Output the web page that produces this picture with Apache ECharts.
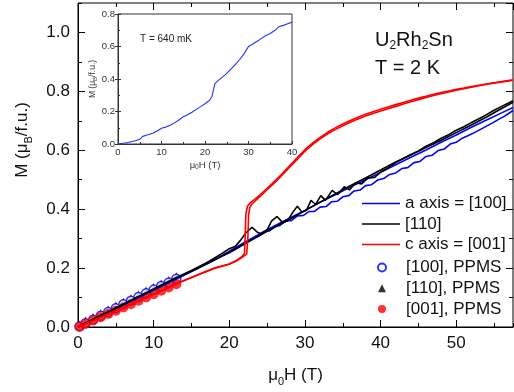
<!DOCTYPE html>
<html><head><meta charset="utf-8">
<script src="https://cdn.jsdelivr.net/npm/echarts@6/dist/echarts.min.js"></script>
<style>html,body{margin:0;padding:0;background:#fff}#c{width:514px;height:392px}</style>
</head><body><div id="c"></div>
<script>
// ---------- data ----------
const xTickMain = {min: 0, max: 57.5, major: 10, minor: 5};
const yTickMain = {min: 0, max: 1.1, major: 0.2, minor: 0.1};
const xTickInset = {min: 0, max: 40, major: 10};
const yTickInset = {min: 0, max: 0.8, major: 0.2};

const seriesNames = ['a axis = [100]', '[110]', 'c axis = [001]', '[100], PPMS', '[110], PPMS', '[001], PPMS'];

// a axis = [100], two field sweeps
const blueSweep1 = [[0,0],[13,0.163],[15,0.188],[17,0.214],[19,0.24],[20,0.252],[21,0.266],[22,0.282],[23,0.3],[24,0.31],[24.6,0.325],[25.3,0.326],[26,0.341],[26.7,0.345],[27.5,0.362],[28.2,0.361],[29,0.377],[29.8,0.379],[30.5,0.392],[31.2,0.392],[32,0.407],[32.8,0.409],[33.5,0.425],[34.3,0.427],[35,0.442],[35.8,0.446],[36.5,0.462],[37.3,0.465],[38,0.48],[38.8,0.483],[39.6,0.499],[40.4,0.504],[41.2,0.518],[42,0.523],[42.8,0.538],[43.6,0.541],[44.4,0.558],[45.2,0.562],[46,0.579],[46.8,0.583],[47.6,0.599],[48.4,0.604],[49.2,0.621],[50,0.627],[50.8,0.641],[51.6,0.65],[52.4,0.66],[53.2,0.671],[54,0.682],[54.8,0.693],[55.6,0.705],[56.4,0.716],[57.5,0.735]];
const blueSweep2 = [[0,0],[13,0.164],[16,0.202],[19,0.242],[22,0.287],[25,0.33],[28,0.37],[30,0.396],[32,0.423],[34,0.449],[36,0.475],[38,0.5],[40,0.525],[42,0.551],[44,0.576],[46,0.601],[48,0.627],[50,0.652],[52,0.678],[54,0.703],[56,0.727],[57.5,0.745]];
// [110], two field sweeps
const blackSweep1 = [[0,0],[13,0.168],[15,0.192],[17,0.218],[18,0.234],[19,0.249],[20,0.266],[20.8,0.274],[21.5,0.295],[22.2,0.32],[23,0.338],[23.7,0.322],[24.3,0.316],[25,0.33],[25.6,0.36],[26.3,0.375],[27,0.356],[27.7,0.36],[28.4,0.39],[29,0.41],[29.6,0.39],[30.2,0.396],[30.8,0.43],[31.4,0.416],[32.1,0.446],[32.7,0.43],[33.6,0.464],[34.3,0.449],[35.2,0.476],[35.9,0.466],[36.7,0.49],[37.5,0.486],[38.3,0.506],[39.2,0.508],[40,0.526],[41,0.54],[42,0.558],[43,0.572],[44,0.586],[45,0.598],[46,0.614],[47,0.626],[48,0.641],[49,0.653],[50,0.668],[51,0.68],[52,0.694],[53,0.707],[54,0.721],[55,0.736],[56,0.749],[57.5,0.768]];
const blackSweep2 = [[0,0],[13,0.166],[16,0.202],[18.6,0.235],[22,0.282],[25,0.325],[28,0.366],[30,0.395],[32,0.424],[34,0.452],[36,0.48],[38,0.506],[40,0.533],[42,0.56],[44,0.584],[46,0.609],[48,0.634],[50,0.66],[52,0.686],[54,0.713],[56,0.742],[57.5,0.763]];
// c axis = [001], two field sweeps
const redSweep1 = [[0,0],[2,0.022],[4,0.044],[6,0.066],[8,0.089],[10,0.111],[12,0.134],[13,0.146],[14,0.157],[16,0.178],[18,0.199],[20,0.213],[21,0.225],[21.8,0.238],[22.3,0.248],[22.45,0.3],[22.55,0.38],[22.7,0.405],[22.9,0.415],[24,0.442],[25,0.466],[26,0.49],[27,0.516],[28,0.543],[29,0.57],[30,0.597],[31,0.619],[32,0.639],[33,0.656],[34,0.67],[35,0.683],[36,0.695],[37,0.706],[38,0.716],[39,0.725],[40,0.733],[41,0.741],[42,0.749],[43,0.757],[44,0.765],[45,0.772],[46,0.779],[47,0.786],[48,0.792],[49,0.798],[50,0.804],[51,0.809],[52,0.814],[53,0.819],[54,0.824],[55,0.828],[56,0.832],[57.5,0.838]];
const redSweep2 = [[0,0],[2,0.022],[4,0.045],[6,0.067],[8,0.09],[10,0.112],[12,0.135],[13,0.147],[14,0.158],[16,0.179],[18,0.2],[20,0.214],[21,0.227],[21.7,0.24],[22,0.25],[22.1,0.31],[22.2,0.385],[22.4,0.41],[22.7,0.42],[24,0.447],[25,0.471],[26,0.495],[27,0.521],[28,0.548],[29,0.575],[30,0.602],[31,0.624],[32,0.644],[33,0.661],[34,0.676],[35,0.689],[36,0.701],[37,0.712],[38,0.722],[39,0.731],[40,0.739],[41,0.747],[42,0.755],[43,0.762],[44,0.77],[45,0.777],[46,0.783],[47,0.79],[48,0.796],[49,0.801],[50,0.807],[51,0.811],[52,0.816],[53,0.821],[54,0.825],[55,0.829],[56,0.833],[57.5,0.839]];
// PPMS points
const ppms100 = [[0.2,0.002],[1,0.013],[2,0.025],[3,0.038],[4,0.051],[5,0.064],[6,0.077],[7,0.089],[8,0.102],[9,0.115],[10,0.127],[11,0.139],[12,0.151],[13,0.164]];
const ppms110 = [[0.2,0.006],[1,0.02],[2,0.032],[3,0.045],[4,0.058],[5,0.071],[6,0.084],[7,0.096],[8,0.109],[9,0.122],[10,0.134],[11,0.146],[12,0.158],[13,0.171]];
const ppms001 = [[0.2,0.001],[1,0.011],[2,0.022],[3,0.033],[4,0.044],[5,0.055],[6,0.066],[7,0.077],[8,0.089],[9,0.1],[10,0.111],[11,0.123],[12,0.134],[13,0.145]];
// inset, T = 640 mK
const inset640 = [[0,0],[2,0.008],[4,0.02],[5,0.029],[5.7,0.047],[7,0.058],[8,0.066],[9,0.08],[10,0.097],[11,0.104],[12,0.115],[13,0.13],[14,0.148],[15,0.168],[16,0.18],[17,0.195],[18,0.213],[19,0.23],[20,0.248],[21,0.268],[21.6,0.292],[22,0.34],[22.3,0.372],[23,0.39],[24,0.412],[25,0.435],[26,0.462],[27,0.49],[28,0.52],[29,0.556],[30,0.6],[31,0.615],[32,0.632],[33,0.65],[34,0.668],[35,0.68],[36,0.698],[37,0.722],[38,0.73],[39,0.74],[40,0.75]];

// ---------- chart ----------
const FF = 'Liberation Sans, Arial, Helvetica, sans-serif';
const BLUE = '#0000ff', BLACK = '#000000', RED = '#ff0000';
const chart = echarts.init(document.getElementById('c'), null, {renderer: 'canvas'});

function richFor(size, subSize, pad) {
  return {
    n: {fontSize: size, lineHeight: size + 3, verticalAlign: 'top', fontFamily: FF, color: '#111'},
    s: {fontSize: subSize, lineHeight: subSize, padding: [pad, 0, 0, 0], verticalAlign: 'bottom', fontFamily: FF, color: '#111'}
  };
}

function mainX(pos, interval, len, withLabels) {
  return {
    type: 'value', gridIndex: 0, position: pos, min: xTickMain.min, max: xTickMain.max, interval: interval,
    axisLine: {show: withLabels, onZero: false, lineStyle: {color: '#000', width: 1}},
    axisTick: {show: true, inside: true, length: len, lineStyle: {color: '#000', width: 1}},
    axisLabel: {show: withLabels, fontSize: 17, color: '#111', fontFamily: FF, margin: 8, showMaxLabel: false},
    splitLine: {show: false}
  };
}
function mainY(pos, interval, len, withLabels) {
  return {
    type: 'value', gridIndex: 0, position: pos, min: yTickMain.min, max: yTickMain.max, interval: interval,
    axisLine: {show: withLabels, onZero: false, lineStyle: {color: '#000', width: 1}},
    axisTick: {show: true, inside: true, length: len, lineStyle: {color: '#000', width: 1}},
    axisLabel: {show: withLabels, fontSize: 17, color: '#111', fontFamily: FF, margin: 8, showMaxLabel: false,
      formatter: v => v.toFixed(1)},
    splitLine: {show: false}
  };
}

const xAxes = [
  Object.assign(mainX('bottom', xTickMain.major, 7, true), {
    name: '{n|μ}{s|0}{n|H (T)}', nameLocation: 'middle', nameGap: 40,
    nameTextStyle: {rich: richFor(17, 11, 11)}
  }),
  mainX('bottom', xTickMain.minor, 4, false),
  mainX('top', xTickMain.major, 7, false),
  mainX('top', xTickMain.minor, 4, false),
  {
    type: 'value', gridIndex: 1, position: 'bottom', min: xTickInset.min, max: xTickInset.max, interval: xTickInset.major,
    axisLine: {show: true, onZero: false, lineStyle: {color: '#333', width: 1}},
    axisTick: {inside: true, length: 3, lineStyle: {color: '#333'}},
    minorTick: {show: true, splitNumber: 2, length: 2, lineStyle: {color: '#333'}},
    axisLabel: {fontSize: 9.5, color: '#333', fontFamily: FF, margin: 3},
    splitLine: {show: false},
    name: '{n|μ}{s|0}{n|H (T)}', nameLocation: 'middle', nameGap: 14,
    nameTextStyle: {rich: {
      n: {fontSize: 9.5, lineHeight: 11, verticalAlign: 'top', fontFamily: FF, color: '#333'},
      s: {fontSize: 6.5, lineHeight: 6.5, padding: [6, 0, 0, 0], verticalAlign: 'bottom', fontFamily: FF, color: '#333'}
    }}
  }
];
const yAxes = [
  Object.assign(mainY('left', yTickMain.major, 7, true), {
    name: '{n|M (μ}{s|B}{n|/f.u.)}', nameLocation: 'middle', nameGap: 44,
    nameTextStyle: {rich: richFor(17, 11, 11), padding: [0, 0, 0, 50]}
  }),
  mainY('left', yTickMain.minor, 4, false),
  mainY('right', yTickMain.major, 7, false),
  mainY('right', yTickMain.minor, 4, false),
  {
    type: 'value', gridIndex: 1, position: 'left', min: yTickInset.min, max: yTickInset.max, interval: yTickInset.major,
    axisLine: {show: true, onZero: false, lineStyle: {color: '#333', width: 1}},
    axisTick: {inside: true, length: 3, lineStyle: {color: '#333'}},
    minorTick: {show: true, splitNumber: 2, length: 2, lineStyle: {color: '#333'}},
    axisLabel: {fontSize: 9.5, color: '#333', fontFamily: FF, margin: 3, formatter: v => v.toFixed(1)},
    splitLine: {show: false},
    name: '{n|M (μ}{s|B}{n|/f.u.)}', nameLocation: 'middle', nameGap: 17,
    nameTextStyle: {rich: {
      n: {fontSize: 8.5, lineHeight: 10, verticalAlign: 'top', fontFamily: FF, color: '#333'},
      s: {fontSize: 6, lineHeight: 6, padding: [5, 0, 0, 0], verticalAlign: 'bottom', fontFamily: FF, color: '#333'}
    }}
  },
  {
    type: 'value', gridIndex: 1, position: 'right', min: yTickInset.min, max: yTickInset.max, interval: yTickInset.major,
    axisLine: {show: false}, axisTick: {inside: true, length: 3, lineStyle: {color: '#333'}},
    axisLabel: {show: false}, splitLine: {show: false}
  }
];

function lineSeries(name, data, color) {
  return {type: 'line', name: name, data: data, xAxisIndex: 0, yAxisIndex: 0, symbol: 'none',
    lineStyle: {color: color, width: 1.6}, itemStyle: {color: color}, silent: true};
}

const option = {
  animation: false,
  backgroundColor: '#fff',
  grid: [
    {left: 78, top: 3, right: 1, bottom: 64, show: true, borderColor: '#000', borderWidth: 1, backgroundColor: 'transparent'},
    {left: 118, top: 14, width: 174, height: 130, show: true, borderColor: '#333', borderWidth: 1, backgroundColor: '#fff'}
  ],
  xAxis: xAxes,
  yAxis: yAxes,
  legend: [
    {data: seriesNames.slice(0, 3), orient: 'vertical', left: 357, top: 190, itemWidth: 38, itemHeight: 1.5, itemGap: 3.5,
      icon: 'rect', selectedMode: false, textStyle: {fontSize: 17, color: '#111', fontFamily: FF}},
    {data: seriesNames.slice(3), orient: 'vertical', left: 372, top: 254, itemWidth: 8, itemHeight: 8, itemGap: 3.8,
      selectedMode: false, textStyle: {fontSize: 17, color: '#111', fontFamily: FF, padding: [0, 0, 0, 15]}}
  ],
  graphic: [
    {type: 'text', left: 375, top: 27, style: {text: '{n|U}{s|2}{n|Rh}{s|2}{n|Sn}', rich: {
      n: {fontSize: 20, lineHeight: 22, verticalAlign: 'top', fontFamily: FF, fill: '#111'},
      s: {fontSize: 12, lineHeight: 12, padding: [13, 0, 0, 0], verticalAlign: 'bottom', fontFamily: FF, fill: '#111'}
    }}},
    {type: 'text', left: 375, top: 58, style: {text: 'T = 2 K', fontSize: 20, fontFamily: FF, fill: '#111'}},
    {type: 'text', left: 140, top: 34, style: {text: 'T = 640 mK', fontSize: 10, fontFamily: FF, fill: '#222'}}
  ],
  series: [
    lineSeries(seriesNames[0], blueSweep1, BLUE),
    lineSeries(seriesNames[0], blueSweep2, BLUE),
    lineSeries(seriesNames[1], blackSweep1, BLACK),
    lineSeries(seriesNames[1], blackSweep2, BLACK),
    lineSeries(seriesNames[2], redSweep1, RED),
    lineSeries(seriesNames[2], redSweep2, RED),
    {type: 'scatter', name: seriesNames[4], data: ppms110, xAxisIndex: 0, yAxisIndex: 0, symbol: 'triangle', symbolSize: 9,
      itemStyle: {color: BLACK}},
    {type: 'scatter', name: seriesNames[3], data: ppms100, xAxisIndex: 0, yAxisIndex: 0, symbol: 'circle', symbolSize: 9,
      itemStyle: {color: '#fff', borderColor: BLUE, borderWidth: 1.5}},
    {type: 'scatter', name: seriesNames[5], data: ppms001, xAxisIndex: 0, yAxisIndex: 0, symbol: 'circle', symbolSize: 10,
      itemStyle: {color: RED}},
    {type: 'line', name: 'inset 640 mK', data: inset640, xAxisIndex: 4, yAxisIndex: 4, symbol: 'none',
      lineStyle: {color: '#2233ff', width: 1.1}, silent: true}
  ]
};
chart.setOption(option);
</script>
</body></html>
